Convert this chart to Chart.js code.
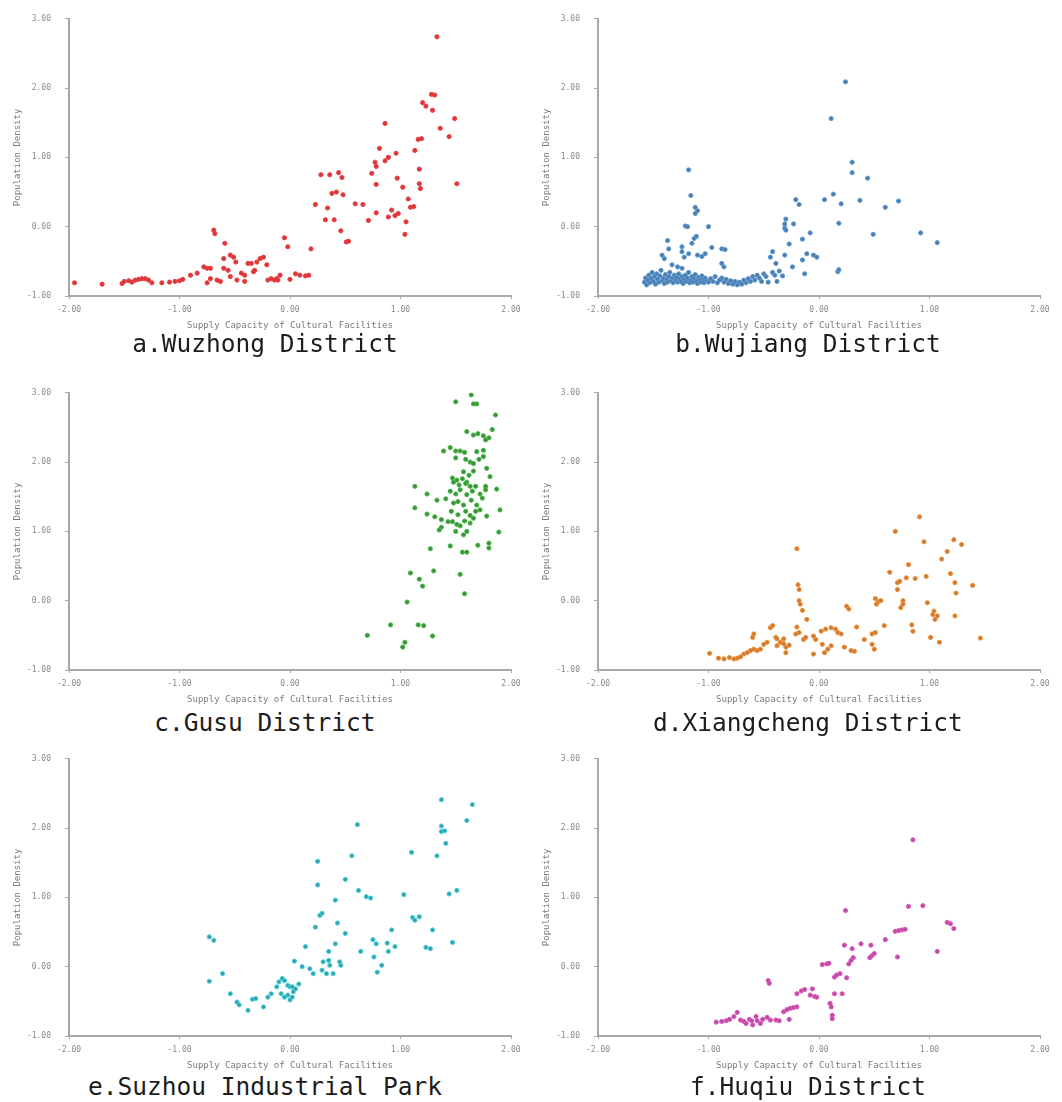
<!DOCTYPE html>
<html lang="en">
<head>
<meta charset="UTF-8">
<title>Population Density vs Supply Capacity of Cultural Facilities</title>
<style>
    body { margin: 0; background: #ffffff; }
    #page { position: relative; width: 1062px; height: 1102px; overflow: hidden; }
    .panel { position: absolute; }
    .caption {
        position: absolute;
        width: 440px;
        text-align: center;
        font-family: 'DejaVu Sans Mono', monospace;
        font-size: 24.5px;
        line-height: 28px;
        color: #1c1c1c;
        white-space: nowrap;
    }
</style>
<script src="https://cdn.jsdelivr.net/npm/chart.js@4.4.1/dist/chart.umd.min.js"></script>
</head>
<body>
<div id="page"></div>
<script>
// axis ticks
const xTicks = [-2, -1, 0, 1, 2];
const yTicks = [-1, 0, 1, 2, 3];
const xLabel = 'Supply Capacity of Cultural Facilities';
const yLabel = 'Population Density';

// a. Wuzhong
const wuzhongX = [-1.95,-1.70,-1.52,-1.50,-1.46,-1.43,-1.40,-1.37,-1.34,-1.31,
    -1.28,-1.25,-1.16,-1.09,-1.04,-1.00,-0.97,-0.90,-0.84,-0.78,
    -0.75,-0.72,-0.75,-0.69,-0.68,-0.72,-0.66,-0.63,-0.59,-0.60,
    -0.54,-0.51,-0.60,-0.56,-0.54,-0.49,-0.48,-0.44,-0.41,-0.41,
    -0.38,-0.35,-0.33,-0.32,-0.30,-0.27,-0.24,-0.21,-0.20,-0.17,
    -0.14,-0.12,-0.11,-0.09,-0.05,-0.02,0.00,0.05,0.09,0.14,
    0.17,0.19,0.23,0.28,0.36,0.32,0.40,0.34,0.38,0.42,
    0.48,0.44,0.47,0.46,0.51,0.53,0.59,0.66,0.71,0.74,
    0.77,0.78,0.78,0.78,0.81,0.86,0.86,0.89,0.89,0.92,
    0.95,0.98,0.96,0.97,1.02,1.04,1.05,1.07,1.09,1.12,
    1.13,1.16,1.19,1.17,1.17,1.18,1.20,1.23,1.29,1.28,
    1.31,1.33,1.36,1.44,1.49,1.51];
const wuzhongY = [-0.81,-0.83,-0.82,-0.79,-0.78,-0.80,-0.77,-0.76,-0.75,-0.75,
    -0.77,-0.81,-0.81,-0.80,-0.79,-0.78,-0.76,-0.70,-0.67,-0.58,
    -0.60,-0.60,-0.81,-0.05,-0.10,-0.75,-0.77,-0.79,-0.24,-0.46,
    -0.41,-0.44,-0.60,-0.63,-0.72,-0.51,-0.77,-0.67,-0.70,-0.79,
    -0.53,-0.53,-0.65,-0.63,-0.51,-0.46,-0.44,-0.55,-0.77,-0.75,
    -0.77,-0.75,-0.77,-0.70,-0.16,-0.29,-0.76,-0.68,-0.70,-0.71,
    -0.70,-0.32,0.32,0.75,0.75,0.10,0.10,0.27,0.48,0.50,
    0.46,0.78,0.71,-0.06,-0.22,-0.21,0.33,0.32,0.09,0.77,
    0.93,0.87,0.61,0.20,1.13,1.49,0.95,1.00,0.14,0.24,
    0.16,0.19,1.06,0.70,0.57,-0.11,0.07,0.40,0.28,0.29,
    1.10,1.26,1.27,0.83,0.62,0.55,1.79,1.74,1.68,1.91,
    1.90,2.74,1.42,1.30,1.56,0.62];

// b. Wujiang
const wujiangX = [0.24,0.11,0.30,0.30,0.44,0.13,0.05,0.20,0.37,0.60,
    0.72,0.18,0.49,0.92,1.07,0.17,0.18,-0.08,-0.15,-0.11,
    -0.05,-0.02,-0.13,-0.15,-0.21,-0.18,-0.23,-0.30,-0.31,-0.31,
    -0.30,-0.27,-0.24,-0.31,-0.33,-0.38,-0.39,-0.42,-0.44,
    -1.18,-1.16,-1.12,-1.10,-1.12,-1.21,-1.19,-1.00,-1.11,-1.13,-1.15,
    -1.37,-1.36,-1.24,-1.24,-1.22,-1.18,-1.10,-1.06,-1.03,-0.97,
    -0.88,-0.85,-1.42,-1.40,-0.88,-0.86,-1.33,-1.28,-1.24,
    -1.58,-1.57,-1.56,-1.55,-1.54,-1.53,-1.52,-1.51,-1.50,-1.49,
    -1.48,-1.47,-1.46,-1.45,-1.44,-1.43,-1.42,-1.41,-1.40,-1.39,
    -1.38,-1.37,-1.36,-1.35,-1.34,-1.33,-1.32,-1.31,-1.30,-1.29,
    -1.28,-1.27,-1.26,-1.25,-1.24,-1.23,-1.22,-1.21,-1.20,-1.19,
    -1.18,-1.17,-1.16,-1.15,-1.14,-1.13,-1.12,-1.11,-1.10,-1.09,
    -1.08,-1.07,-1.06,-1.05,-1.04,-1.03,-1.02,-1.00,-0.98,-0.96,
    -0.94,-0.92,-0.90,-0.88,-0.86,-0.84,-0.82,-0.80,-0.78,-0.76,
    -0.74,-0.72,-0.70,-0.68,-0.66,-0.64,-0.62,-0.60,-0.58,-0.56,
    -0.54,-0.52,-0.50,-0.48,-0.46,-0.42,-0.40,-0.36];
const wujiangY = [2.09,1.56,0.93,0.78,0.70,0.47,0.39,0.33,0.38,0.28,
    0.37,0.05,-0.11,-0.09,-0.23,-0.65,-0.62,-0.09,-0.18,-0.39,
    -0.41,-0.44,-0.68,-0.48,0.39,0.32,0.04,0.11,0.04,-0.02,
    -0.05,-0.25,-0.58,-0.41,-0.71,-0.79,-0.53,-0.36,-0.44,
    0.82,0.45,0.28,0.23,0.19,0.01,0.00,0.00,-0.14,-0.17,-0.24,
    -0.20,-0.32,-0.29,-0.36,-0.44,-0.39,-0.41,-0.43,-0.39,-0.30,
    -0.32,-0.33,-0.41,-0.46,-0.53,-0.58,-0.55,-0.58,-0.60,
    -0.80,-0.74,-0.84,-0.77,-0.70,-0.81,-0.75,-0.66,-0.79,-0.72,
    -0.83,-0.68,-0.76,-0.80,-0.71,-0.63,-0.78,-0.74,-0.82,-0.69,
    -0.76,-0.80,-0.72,-0.66,-0.78,-0.74,-0.81,-0.70,-0.77,-0.73,
    -0.80,-0.68,-0.75,-0.79,-0.72,-0.82,-0.76,-0.70,-0.79,-0.74,
    -0.66,-0.81,-0.77,-0.72,-0.80,-0.75,-0.69,-0.78,-0.82,-0.73,
    -0.77,-0.80,-0.71,-0.76,-0.81,-0.74,-0.78,-0.80,-0.75,-0.79,
    -0.72,-0.81,-0.77,-0.74,-0.80,-0.76,-0.82,-0.78,-0.83,-0.79,
    -0.84,-0.80,-0.83,-0.77,-0.81,-0.75,-0.79,-0.72,-0.77,-0.70,
    -0.74,-0.79,-0.68,-0.72,-0.80,-0.66,-0.70,-0.64];

// c. Gusu
const gusuX = [0.70,0.91,1.02,1.04,1.06,1.09,1.16,1.21,1.29,1.17,
    1.20,1.30,1.27,1.13,1.13,1.24,1.24,1.31,1.33,1.41,
    1.37,1.43,1.45,1.54,1.58,1.56,1.60,1.50,1.64,1.66,
    1.69,1.86,1.83,1.60,1.66,1.70,1.75,1.80,1.77,1.39,
    1.45,1.50,1.54,1.58,1.69,1.75,1.50,1.59,1.63,1.66,
    1.71,1.75,1.57,1.62,1.66,1.78,1.81,1.47,1.51,1.56,
    1.60,1.48,1.53,1.59,1.63,1.68,1.77,1.87,1.45,1.50,
    1.54,1.60,1.65,1.72,1.77,1.48,1.52,1.57,1.64,1.69,
    1.74,1.46,1.52,1.59,1.63,1.68,1.72,1.78,1.90,1.47,
    1.51,1.54,1.58,1.63,1.66,1.50,1.57,1.60,1.89,1.70,
    1.80,1.80,1.37,1.35];
const gusuY = [-0.50,-0.35,-0.67,-0.60,-0.02,0.40,-0.35,-0.36,-0.51,0.31,
    0.21,0.43,0.75,1.65,1.34,1.54,1.25,1.21,1.45,1.47,
    1.06,1.14,0.79,0.38,0.10,0.70,0.70,2.87,2.97,2.84,
    2.84,2.68,2.47,2.44,2.39,2.41,2.38,2.35,2.32,2.16,
    2.21,2.16,2.16,2.14,2.15,2.17,2.06,2.04,2.00,1.98,
    2.04,2.08,1.86,1.81,1.87,1.91,1.79,1.77,1.74,1.76,
    1.71,1.71,1.67,1.69,1.65,1.65,1.65,1.61,1.58,1.54,
    1.60,1.53,1.58,1.54,1.60,1.41,1.43,1.38,1.45,1.38,
    1.48,1.29,1.24,1.29,1.23,1.29,1.31,1.22,1.31,1.14,
    1.10,1.08,1.15,1.12,1.19,1.00,0.95,1.00,0.99,0.80,
    0.83,0.76,1.17,1.02];

// d. Xiangcheng
const xiangchengX = [-0.99,-0.91,-0.86,-0.81,-0.77,-0.74,-0.71,-0.68,-0.65,-0.62,
    -0.59,-0.56,-0.53,-0.60,-0.59,-0.50,-0.47,-0.44,-0.42,-0.39,
    -0.38,-0.35,-0.32,-0.30,-0.30,-0.27,-0.38,-0.32,-0.21,-0.20,
    -0.18,-0.14,-0.12,-0.20,-0.19,-0.18,-0.18,-0.17,-0.15,-0.11,
    -0.05,-0.03,-0.05,0.02,0.06,0.11,0.15,0.17,0.20,0.03,
    0.05,0.08,0.11,0.23,0.29,0.32,0.25,0.27,0.34,0.41,
    0.48,0.51,0.59,0.48,0.50,0.51,0.54,0.52,0.56,0.64,
    0.69,0.71,0.73,0.71,0.76,0.74,0.76,0.79,0.81,0.87,
    0.84,0.85,0.91,0.95,0.97,0.98,1.01,1.04,1.05,1.07,
    1.03,1.09,1.11,1.16,1.19,1.23,1.24,1.22,1.29,1.23,
    1.39,1.46];
const xiangchengY = [-0.76,-0.83,-0.84,-0.82,-0.84,-0.83,-0.81,-0.77,-0.75,-0.72,
    -0.70,-0.72,-0.70,-0.53,-0.48,-0.63,-0.60,-0.39,-0.36,-0.53,
    -0.65,-0.60,-0.62,-0.67,-0.75,-0.64,-0.55,-0.55,-0.48,-0.38,
    -0.46,-0.56,-0.53,0.75,0.23,0.16,0.00,-0.05,-0.14,-0.27,
    -0.51,-0.56,-0.77,-0.44,-0.41,-0.39,-0.41,-0.46,-0.48,-0.63,
    -0.75,-0.70,-0.65,-0.67,-0.72,-0.73,-0.08,-0.12,-0.38,-0.56,
    -0.48,-0.46,-0.36,-0.63,-0.70,0.03,-0.01,-0.05,0.00,0.41,
    1.00,0.26,0.28,0.16,0.00,-0.10,-0.05,0.33,0.52,0.32,
    -0.35,-0.44,1.21,0.85,0.35,-0.03,-0.53,-0.15,-0.27,-0.22,
    -0.20,-0.60,0.60,0.71,0.39,0.26,0.11,0.88,0.81,-0.22,
    0.22,-0.54];

// e. Suzhou Industrial Park
const sipX = [-0.73,-0.69,-0.73,-0.61,-0.54,-0.48,-0.46,-0.38,-0.34,-0.31,
    -0.24,-0.20,-0.17,-0.12,-0.10,-0.07,-0.05,-0.02,0.00,-0.08,
    -0.05,-0.02,0.00,0.02,0.03,0.05,0.08,0.02,0.04,0.11,
    0.14,0.18,0.21,0.23,0.25,0.25,0.27,0.29,0.29,0.33,
    0.30,0.35,0.36,0.39,0.35,0.41,0.41,0.43,0.45,0.46,
    0.50,0.50,0.56,0.61,0.62,0.64,0.69,0.73,0.75,0.78,
    0.76,0.79,0.83,0.88,0.89,0.95,0.92,1.03,1.10,1.11,
    1.13,1.17,1.23,1.27,1.29,1.33,1.37,1.37,1.37,1.40,
    1.41,1.44,1.47,1.51,1.60,1.65];
const sipY = [0.43,0.38,-0.21,-0.10,-0.39,-0.51,-0.55,-0.63,-0.47,-0.46,
    -0.58,-0.44,-0.39,-0.29,-0.22,-0.17,-0.20,-0.27,-0.29,-0.39,
    -0.44,-0.41,-0.48,-0.44,-0.36,-0.32,-0.25,-0.29,0.08,0.00,
    0.29,-0.03,-0.10,0.57,1.52,1.18,0.74,0.77,-0.05,-0.10,
    0.07,0.09,0.02,-0.10,0.22,0.96,0.33,0.63,0.07,0.02,
    0.48,1.26,1.60,2.05,1.10,0.22,1.01,0.99,0.39,0.33,
    0.14,-0.08,0.02,0.34,0.22,0.29,0.53,1.04,1.65,0.71,
    0.67,0.72,0.28,0.26,0.53,1.60,2.41,2.03,1.95,1.96,
    1.78,1.05,0.35,1.10,2.11,2.34];

// f. Huqiu
const huqiuX = [-0.93,-0.88,-0.84,-0.81,-0.77,-0.74,-0.71,-0.68,-0.66,-0.63,
    -0.61,-0.60,-0.57,-0.56,-0.53,-0.51,-0.47,-0.44,-0.39,-0.36,
    -0.46,-0.45,-0.32,-0.29,-0.26,-0.23,-0.20,-0.27,-0.20,-0.16,
    -0.13,-0.06,-0.08,-0.04,-0.02,0.03,0.07,0.09,0.10,0.11,
    0.12,0.12,0.14,0.14,0.16,0.19,0.21,0.23,0.24,0.25,
    0.27,0.29,0.31,0.30,0.38,0.46,0.48,0.50,0.47,0.60,
    0.69,0.72,0.75,0.78,0.71,0.81,0.85,0.94,1.07,1.16,
    1.19,1.22];
const huqiuY = [-0.80,-0.79,-0.78,-0.76,-0.72,-0.66,-0.77,-0.79,-0.82,-0.76,
    -0.78,-0.84,-0.72,-0.78,-0.82,-0.76,-0.73,-0.77,-0.77,-0.78,
    -0.20,-0.24,-0.65,-0.62,-0.60,-0.59,-0.58,-0.76,-0.39,-0.35,
    -0.33,-0.32,-0.41,-0.43,-0.44,0.03,0.04,0.05,-0.53,-0.58,
    -0.70,-0.75,-0.39,-0.15,-0.12,-0.10,-0.39,0.31,0.81,-0.16,
    0.04,0.09,0.13,0.26,0.33,0.13,0.16,0.19,0.31,0.39,
    0.51,0.52,0.53,0.54,0.14,0.87,1.83,0.88,0.22,0.64,
    0.62,0.55];

const mono = "'DejaVu Sans Mono', monospace";

const panels = [
    { title: 'a.Wuzhong District', xs: wuzhongX, ys: wuzhongY, fill: '#d23a3c', edge: '#f03a40', left: 0, top: 0, capX: 265, capY: 330 },
    { title: 'b.Wujiang District', xs: wujiangX, ys: wujiangY, fill: '#4d7bab', edge: '#5a9ad2', left: 529, top: 0, capX: 808, capY: 330 },
    { title: 'c.Gusu District', xs: gusuX, ys: gusuY, fill: '#3f8f3f', edge: '#45b845', left: 0, top: 374, capX: 265, capY: 709 },
    { title: 'd.Xiangcheng District', xs: xiangchengX, ys: xiangchengY, fill: '#c97a3a', edge: '#f29030', left: 529, top: 374, capX: 808, capY: 709 },
    { title: 'e.Suzhou Industrial Park', xs: sipX, ys: sipY, fill: '#3a9ea8', edge: '#40d0dc', left: 0, top: 740, capX: 265, capY: 1073 },
    { title: 'f.Huqiu District', xs: huqiuX, ys: huqiuY, fill: '#b4509e', edge: '#e055c0', left: 529, top: 740, capX: 808, capY: 1073 }
];

const page = document.getElementById('page');

panels.forEach(p => {
    const canvas = document.createElement('canvas');
    canvas.width = 530;
    canvas.height = 332;
    canvas.className = 'panel';
    canvas.style.left = p.left + 'px';
    canvas.style.top = p.top + 'px';
    page.appendChild(canvas);

    const cap = document.createElement('div');
    cap.className = 'caption';
    cap.textContent = p.title;
    cap.style.left = (p.capX - 220) + 'px';
    cap.style.top = p.capY + 'px';
    page.appendChild(cap);

    new Chart(canvas, {
        type: 'scatter',
        data: {
            datasets: [{
                data: p.xs.map((x, i) => ({ x: x, y: p.ys[i] })),
                pointRadius: 2.1,
                pointBorderWidth: 1,
                backgroundColor: p.fill,
                borderColor: p.edge
            }]
        },
        options: {
            responsive: false,
            animation: false,
            layout: { padding: { top: 17, right: 19, left: 0, bottom: 0 } },
            plugins: { legend: { display: false }, tooltip: { enabled: false } },
            scales: {
                x: {
                    type: 'linear', min: xTicks[0], max: xTicks[xTicks.length - 1],
                    afterBuildTicks: s => { s.ticks = xTicks.map(v => ({ value: v })); },
                    afterFit: s => { s.height = 36; },
                    ticks: { callback: v => v.toFixed(2), font: { family: mono, size: 8 }, color: '#8a8a8a', padding: 6, maxRotation: 0 },
                    grid: { drawOnChartArea: false, drawTicks: true, tickLength: 3, color: '#a8a8a8' },
                    border: { display: true, color: '#a8a8a8', width: 2 },
                    title: { display: true, text: xLabel, font: { family: mono, size: 9 }, color: '#7a7a7a', padding: { top: 2, bottom: 1 } }
                },
                y: {
                    type: 'linear', min: yTicks[0], max: yTicks[yTicks.length - 1],
                    afterBuildTicks: s => { s.ticks = yTicks.map(v => ({ value: v })); },
                    afterFit: s => { s.width = 69; },
                    ticks: { callback: v => v.toFixed(2), font: { family: mono, size: 8 }, color: '#8a8a8a', padding: 14 },
                    grid: { drawOnChartArea: false, drawTicks: true, tickLength: 4, color: '#a8a8a8' },
                    border: { display: true, color: '#a8a8a8', width: 2 },
                    title: { display: true, text: yLabel, font: { family: mono, size: 9 }, color: '#7a7a7a', padding: { top: 12, bottom: 0 } }
                }
            }
        }
    });
});
</script>
</body>
</html>
